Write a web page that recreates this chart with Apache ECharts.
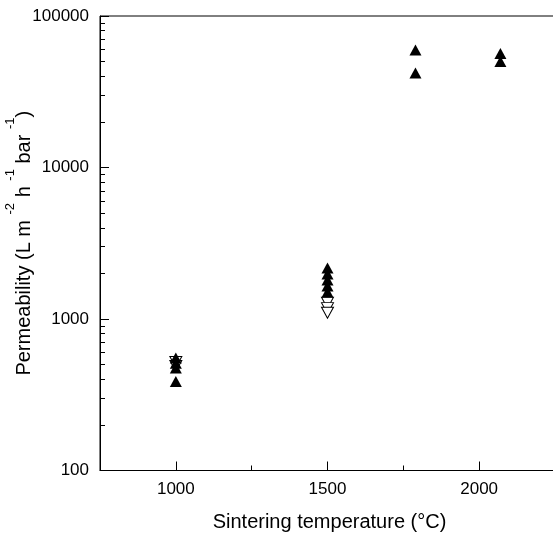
<!DOCTYPE html>
<html><head><meta charset="utf-8">
<script src="https://cdn.jsdelivr.net/npm/echarts@6/dist/echarts.min.js"></script>
<style>html,body{margin:0;padding:0;background:#fff}#c{width:553px;height:535px}</style>
</head><body><div id="c"></div>
<script>
const filledX = [1000, 1000, 1000, 1000, 1500, 1500, 1500, 1500, 1500, 1790, 1790, 2070, 2070];
const filledY = [553, 510, 475, 387, 2170, 1980, 1810, 1650, 1510, 59700, 42000, 56500, 50100];
const openX = [1000, 1000, 1500, 1500, 1500];
const openY = [520, 490, 1280, 1180, 1100];
const xLabels = [1000, 1500, 2000];
const xMinor = [1250, 1750, 2250];
const yLabels = [100, 1000, 10000, 100000];
const yMinor = [];
[100, 1000, 10000].forEach(d => { for (let k = 2; k <= 9; k++) yMinor.push(d * k); });

const font = '"Liberation Sans", Arial, sans-serif';
const chart = echarts.init(document.getElementById('c'));
const baseX = {type: 'value', min: 750, max: 2250, splitLine: {show: false}};
const baseY = {type: 'log', logBase: 10, min: 100, max: 100000, splitLine: {show: false}};
const tickStyle = {color: '#000', width: 1};
chart.setOption({
  animation: false,
  grid: {left: 100, top: 16, width: 455, height: 454.5, show: true, borderColor: '#000', borderWidth: 1,
         outerBoundsMode: 'none', containLabel: false},
  xAxis: [
    Object.assign({}, baseX, {
      name: 'Sintering temperature (°C)', nameLocation: 'middle', nameGap: 42, nameMoveOverlap: false,
      nameTextStyle: {fontFamily: font, fontSize: 20, color: '#000', padding: [0, 0, 0, 4]},
      axisLine: {show: true, lineStyle: {color: '#000', width: 1}},
      axisTick: {show: true, inside: true, length: 9, lineStyle: tickStyle, customValues: xLabels},
      axisLabel: {customValues: xLabels, margin: 10, fontFamily: font, fontSize: 17, color: '#000',
                  formatter: v => String(v)}
    }),
    Object.assign({}, baseX, {
      position: 'bottom',
      axisLine: {show: false}, axisLabel: {show: false},
      axisTick: {show: true, inside: true, length: 5, lineStyle: tickStyle, customValues: xMinor}
    })
  ],
  yAxis: [
    Object.assign({}, baseY, {
      name: '{n|Permeability (L m }{s|-2}{n| h }{s|-1}{n| bar }{s|-1}{n|)}',
      nameLocation: 'middle', nameGap: 81, nameMoveOverlap: false,
      nameTextStyle: {fontFamily: font, fontSize: 20, color: '#000', verticalAlign: 'middle', align: 'center',
        lineHeight: 40,
        rich: {n: {fontFamily: font, fontSize: 20, color: '#000', verticalAlign: 'bottom', lineHeight: 30},
               s: {fontFamily: font, fontSize: 13, color: '#000', verticalAlign: 'top', lineHeight: 12}}},
      axisLine: {show: true, lineStyle: {color: '#000', width: 1}},
      axisTick: {show: true, inside: true, length: 9, lineStyle: tickStyle, customValues: yLabels},
      axisLabel: {customValues: yLabels, margin: 11, fontFamily: font, fontSize: 17, color: '#000',
                  formatter: v => String(Math.round(v))}
    }),
    Object.assign({}, baseY, {
      position: 'left',
      axisLine: {show: false}, axisLabel: {show: false},
      axisTick: {show: true, inside: true, length: 5, lineStyle: tickStyle, customValues: yMinor}
    })
  ],
  series: [
    {type: 'scatter', symbol: 'triangle', symbolRotate: 180, symbolSize: [12, 11],
     itemStyle: {color: '#fff', borderColor: '#000', borderWidth: 1, opacity: 1},
     data: openX.map((x, i) => [x, openY[i]])},
    {type: 'scatter', symbol: 'triangle', symbolSize: [12, 11],
     itemStyle: {color: '#000', opacity: 1},
     data: filledX.map((x, i) => [x, filledY[i]])}
  ]
});
</script></body></html>
